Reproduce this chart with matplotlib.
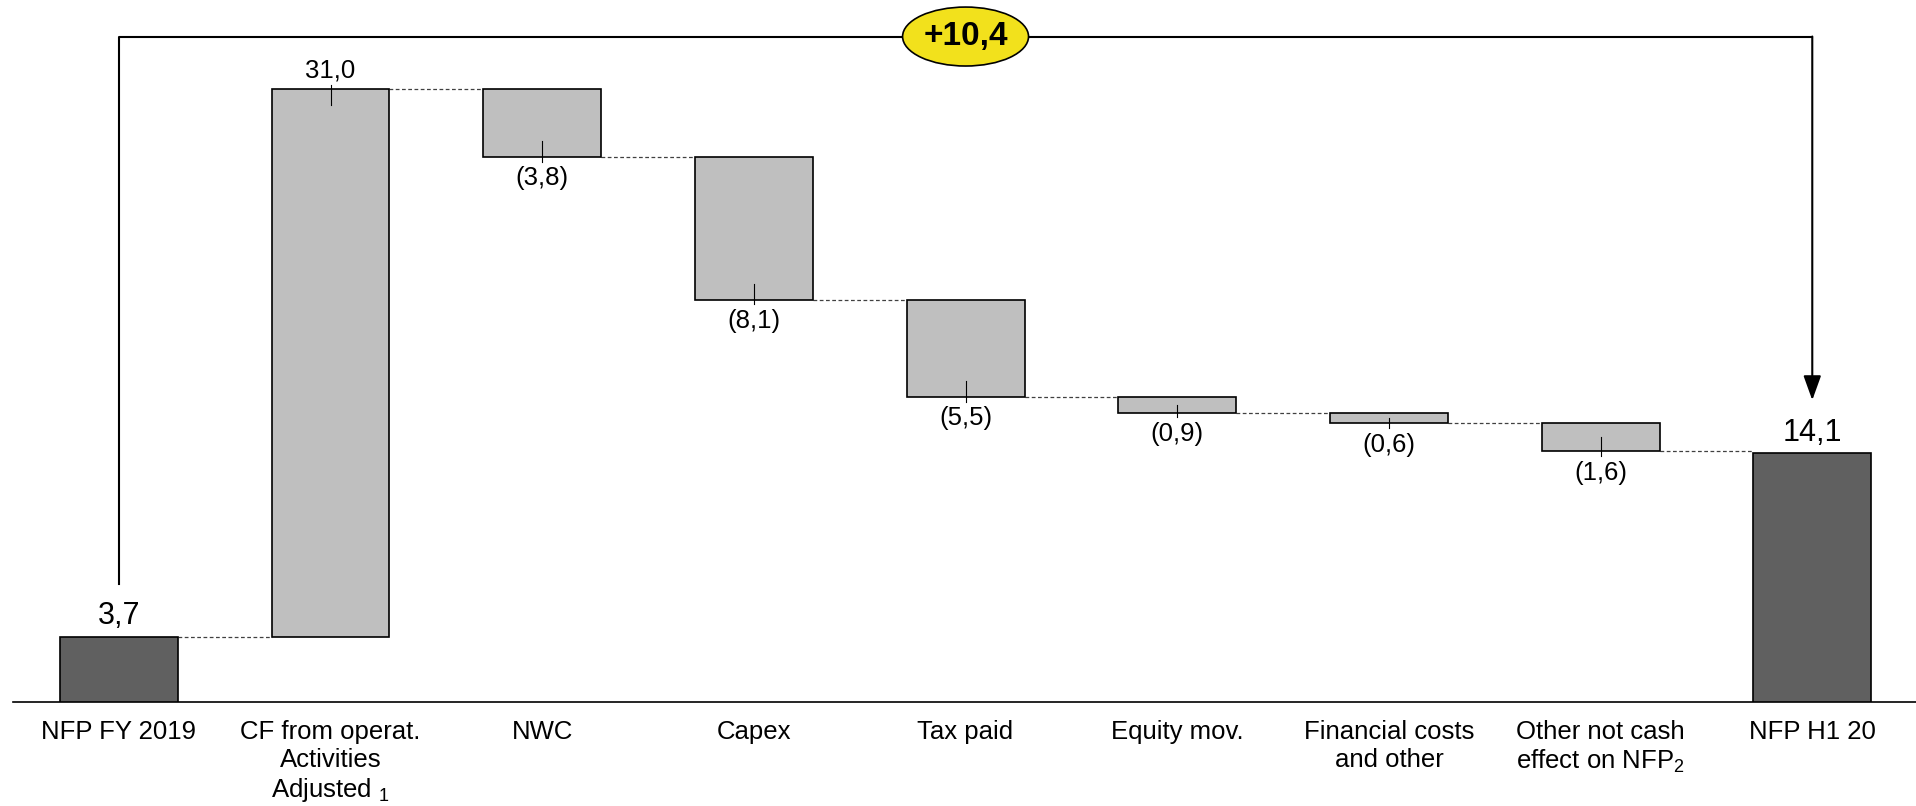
import matplotlib
matplotlib.use("Agg")
import matplotlib.pyplot as plt
from matplotlib.patches import Ellipse

plt.rcParams['font.family'] = ['Liberation Sans', 'DejaVu Sans']
plt.rcParams['mathtext.fontset'] = 'custom'
plt.rcParams['mathtext.rm'] = 'Liberation Sans'
plt.rcParams['mathtext.it'] = 'Liberation Sans'

# waterfall data (EUR m)
categories = ["NFP FY 2019", "CF from operat.\nActivities\nAdjusted $_{1}$", "NWC", "Capex",
              "Tax paid", "Equity mov.", "Financial costs\nand other",
              "Other not cash\neffect on NFP$_{2}$", "NFP H1 20"]
start_value = 3.7
deltas = [31.0, -3.8, -8.1, -5.5, -0.9, -0.6, -1.6]
end_value = 14.1

DARK = "#606060"
LIGHT = "#BFBFBF"


def fmt(v):
    s = f"{abs(v):.1f}".replace(".", ",")
    return f"({s})" if v < 0 else s


def main():
    fig = plt.figure(figsize=(19.16, 8.06), dpi=100)
    ax = fig.add_axes([13 / 1916, 104 / 806, 1 - 13 / 1916, 702 / 806])
    ax.set_xlim(-0.5, 8.49)
    ax.set_ylim(0, 39.77)
    width = 0.557

    # totals
    ax.bar(0, start_value, width, color=DARK, edgecolor="black", linewidth=1.2, zorder=3)
    ax.bar(len(categories) - 1, end_value, width, color=DARK, edgecolor="black", linewidth=1.2, zorder=3)
    ax.annotate(fmt(start_value), (0, start_value), xytext=(0, 4), textcoords="offset points",
                ha="center", va="bottom", fontsize=22)
    ax.annotate(fmt(end_value), (len(categories) - 1, end_value), xytext=(0, 4),
                textcoords="offset points", ha="center", va="bottom", fontsize=22)

    level = start_value
    for i, d in enumerate(deltas, start=1):
        bottom = level if d > 0 else level + d
        ax.bar(i, abs(d), width, bottom=bottom, color=LIGHT, edgecolor="black",
               linewidth=1.2, zorder=3)
        # connector from previous bar
        ax.plot([i - 1 + width / 2, i - width / 2], [level, level], color="#404040",
                lw=0.9, ls=(0, (3, 2)), zorder=2)
        inside = min(0.9, abs(d) / 2)
        if d > 0:
            top = level + d
            ax.plot([i, i], [top + 0.28, top - inside], color="black", lw=0.8, zorder=4)
            ax.annotate(fmt(d), (i, top), xytext=(0, 5), textcoords="offset points",
                        ha="center", va="bottom", fontsize=18.5)
        else:
            ax.plot([i, i], [bottom - 0.28, bottom + inside], color="black", lw=0.8, zorder=4)
            ax.annotate(fmt(d), (i, bottom), xytext=(0, -7), textcoords="offset points",
                        ha="center", va="top", fontsize=18.5)
        level += d
    last = len(categories) - 1
    ax.plot([last - 1 + width / 2, last - width / 2], [level, level], color="#404040",
            lw=0.9, ls=(0, (3, 2)), zorder=2)

    # bracket with delta
    y_br = 37.7
    ax.plot([0, 0, last], [6.7, y_br, y_br], color="black", lw=1.5, zorder=2)
    ax.annotate("", xy=(last, 17.1), xytext=(last, y_br),
                arrowprops=dict(arrowstyle="-|>,head_length=0.5,head_width=0.18",
                                mutation_scale=30, lw=1.5, color="black",
                                shrinkA=0, shrinkB=0))
    mid = last / 2
    ax.add_patch(Ellipse((mid, y_br), 0.595, 3.34, facecolor="#F2E11C", edgecolor="black",
                         lw=1.2, zorder=5))
    delta_total = end_value - start_value
    ax.text(mid, y_br, f"+{delta_total:.1f}".replace(".", ","), ha="center", va="center",
            fontsize=24, fontweight="bold", zorder=6)

    ax.set_xticks(range(len(categories)))
    ax.set_xticklabels(categories, fontsize=18.5)
    ax.tick_params(axis="x", length=0, pad=13)
    ax.set_yticks([])
    for s in ["top", "left", "right"]:
        ax.spines[s].set_visible(False)
    ax.spines["bottom"].set_linewidth(1.2)

    fig.savefig("out.png", dpi=100)


if __name__ == "__main__":
    main()
